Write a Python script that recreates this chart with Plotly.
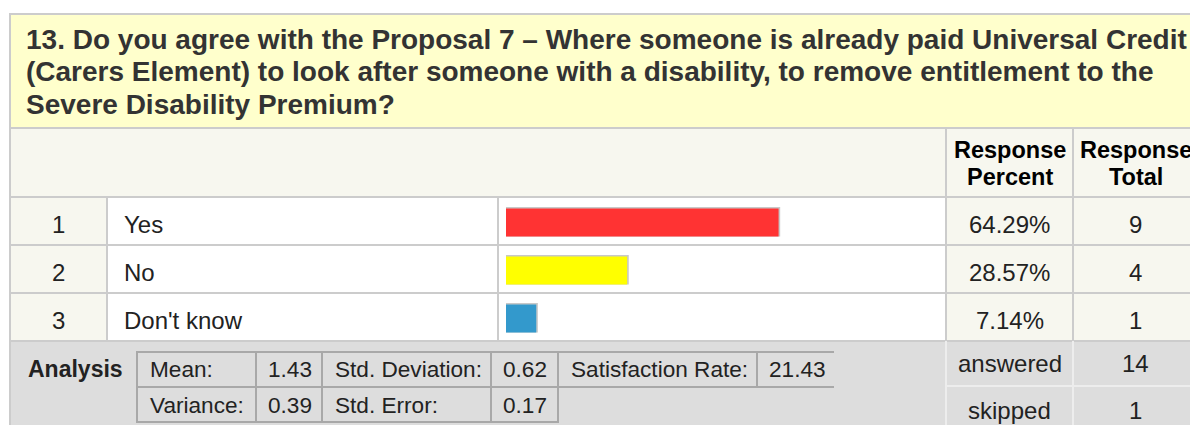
import plotly.graph_objects as go

# ---------------- data ----------------
question_lines = [
    "13. Do you agree with the Proposal 7 – Where someone is already paid Universal Credit",
    "(Carers Element) to look after someone with a disability, to remove entitlement to the",
    "Severe Disability Premium?",
]
answer_numbers = ["1", "2", "3"]
answers = ["Yes", "No", "Don't know"]
response_percent = [64.29, 28.57, 7.14]
response_total = [9, 4, 1]
bar_colors = ["#FF3333", "#FFFF00", "#3399CC"]
header_percent = ["Response", "Percent"]
header_total = ["Response", "Total"]
analysis_row1_labels = ["Mean:", "Std. Deviation:", "Satisfaction Rate:"]
analysis_row1_values = ["1.43", "0.62", "21.43"]
analysis_row2_labels = ["Variance:", "Std. Error:"]
analysis_row2_values = ["0.39", "0.17"]
summary_labels = ["answered", "skipped"]
summary_values = [14, 1]

# ---------------- geometry (screen pixels) ----------------
OX, OY = 8, 8                # page body margin
W, H = 1190, 417


def px(x):
    return (x - OX) / W


def py(y):
    return 1 - (y - OY) / H


FONT = "Liberation Sans, Arial, Helvetica, sans-serif"
GRID = "#CCCCCC"
CREAM = "#F7F7EF"
YELLOW_BG = "#FFFFCC"
GRAY_BG = "#DDDDDD"
INNER = "#A8A8A8"

shapes = []


def rect(x0, y0, x1, y1, fill):
    shapes.append(dict(type="rect", xref="paper", yref="paper",
                       x0=px(x0), x1=px(x1), y0=py(y1), y1=py(y0),
                       fillcolor=fill, line=dict(width=0), layer="below"))


def hline(x0, x1, y, color=GRID, w=2):
    shapes.append(dict(type="line", xref="paper", yref="paper",
                       x0=px(x0), x1=px(x1), y0=py(y), y1=py(y),
                       line=dict(color=color, width=w), layer="below"))


def vline(x, y0, y1, color=GRID, w=2):
    shapes.append(dict(type="line", xref="paper", yref="paper",
                       x0=px(x), x1=px(x), y0=py(y0), y1=py(y1),
                       line=dict(color=color, width=w), layer="below"))


annotations = []


def text(x, y, s, anchor="left", size=24, color="#222222", bold=False):
    annotations.append(dict(xref="paper", yref="paper", x=px(x), y=py(y),
                            text=("<b>%s</b>" % s) if bold else s,
                            showarrow=False, xanchor=anchor, yanchor="middle",
                            font=dict(family=FONT, size=size, color=color)))


LEFT = 10
RIGHT = 1210
C_NUM, C_TXT, C_BAR, C_PCT, C_TOT = 10, 107, 498, 946, 1073
Y_TOP, Y_TITLE, Y_HEAD = 14, 128, 197
ROW_H = 48
Y_ROWS = [Y_HEAD + i * ROW_H for i in range(len(answers) + 1)]
Y_ANA = Y_ROWS[-1]
Y_BOT = 440

# backgrounds
rect(LEFT, Y_TOP, RIGHT, Y_TITLE, YELLOW_BG)
rect(LEFT, Y_TITLE, RIGHT, Y_HEAD, CREAM)
rect(C_NUM, Y_HEAD, C_TXT, Y_ANA, CREAM)
rect(C_TXT, Y_HEAD, C_PCT, Y_ANA, "#FFFFFF")
rect(C_PCT, Y_HEAD, RIGHT, Y_ANA, CREAM)
rect(LEFT, Y_ANA, RIGHT, Y_BOT, GRAY_BG)

# grid lines
hline(LEFT - 1, RIGHT, Y_TOP)
vline(LEFT, Y_TOP - 1, Y_BOT)
hline(LEFT, RIGHT, Y_TITLE)
hline(LEFT, RIGHT, Y_HEAD)
for yy in Y_ROWS[1:]:
    hline(LEFT, RIGHT, yy)
vline(C_TXT, Y_HEAD, Y_ANA)
vline(C_BAR, Y_HEAD, Y_ANA)
vline(C_PCT, Y_TITLE, Y_ANA)
vline(C_TOT, Y_TITLE, Y_ANA)
# summary cells in analysis area
vline(C_PCT, Y_ANA, Y_BOT, color="#EDEDED")
vline(C_TOT, Y_ANA, Y_BOT, color="#EDEDED")
hline(C_PCT, RIGHT, 386, color="#EDEDED")

# title
title_y = [40, 72, 104]
for s, yy in zip(question_lines, title_y):
    text(24, yy, s, size=28, color="#333333", bold=True)

# header
HS = 23.5
text((C_PCT + C_TOT) / 2, 150, header_percent[0], "center", HS, "#000000", True)
text((C_PCT + C_TOT) / 2, 177, header_percent[1], "center", HS, "#000000", True)
text((C_TOT + 1198) / 2, 150, header_total[0], "center", HS, "#000000", True)
text((C_TOT + 1198) / 2, 177, header_total[1], "center", HS, "#000000", True)

# rows
for i in range(len(answers)):
    yc = Y_ROWS[i] + ROW_H / 2 + 3
    text((C_NUM + C_TXT) / 2, yc, answer_numbers[i], "center")
    text(C_TXT + 15, yc, answers[i])
    text((C_PCT + C_TOT) / 2, yc, "%.2f%%" % response_percent[i], "center")
    text((C_TOT + 1198) / 2, yc, str(response_total[i]), "center")

# analysis block
AS = 22.6
text(125, 369, "Analysis", "right", size=23, bold=True)
ix = [137, 256, 322, 491, 558, 757, 834]
iy = [352, 387, 422]
hline(ix[0] - 1, ix[6], iy[0], INNER)
hline(ix[0] - 1, ix[6], iy[1], INNER)
hline(ix[0] - 1, ix[4] + 1, iy[2], INNER)
for x in ix[:5]:
    vline(x, iy[0] - 1, iy[2] + 1, INNER)
vline(ix[5], iy[0] - 1, iy[1] + 1, INNER)
for k in range(len(analysis_row1_labels)):
    text(ix[2 * k] + 11, 369, analysis_row1_labels[k], size=AS)
    text(ix[2 * k + 1] + 10, 369, analysis_row1_values[k], size=AS)
for k in range(len(analysis_row2_labels)):
    text(ix[2 * k] + 11, 405, analysis_row2_labels[k], size=AS)
    text(ix[2 * k + 1] + 10, 405, analysis_row2_values[k], size=AS)

# summary
for k in range(len(summary_labels)):
    yc = 363 + k * 47
    text((C_PCT + C_TOT) / 2, yc, summary_labels[k], "center")
    text((C_TOT + 1198) / 2, yc, str(summary_values[k]), "center")

# ---------------- bars ----------------
BAR_X0 = 506
BAR_FULL = 424          # px for 100 %
bw = 28 / ROW_H
shadow_px = 1.6
fig = go.Figure()
fig.add_trace(go.Bar(
    y=answers, x=[v + shadow_px * 100 / BAR_FULL for v in response_percent],
    orientation="h", marker=dict(color="#C8C8C8", line=dict(width=0)),
    width=bw + shadow_px / ROW_H, offset=-bw / 2 - shadow_px / ROW_H,
    hoverinfo="skip", showlegend=False))
fig.add_trace(go.Bar(
    y=answers, x=response_percent, orientation="h",
    marker=dict(color=bar_colors, line=dict(width=0)),
    width=bw, offset=-bw / 2, showlegend=False,
    hovertemplate="%{y}: %{x:.2f}%<extra></extra>"))

fig.update_layout(
    width=W, height=H,
    margin=dict(l=0, r=0, t=0, b=0),
    paper_bgcolor="#FFFFFF", plot_bgcolor="rgba(0,0,0,0)",
    barmode="overlay",
    shapes=shapes, annotations=annotations,
    xaxis=dict(domain=[px(BAR_X0), px(BAR_X0 + BAR_FULL)], range=[0, 100],
               visible=False, fixedrange=True),
    yaxis=dict(domain=[py(Y_ANA + 1.5), py(Y_HEAD + 1.5)], type="category",
               categoryorder="array", categoryarray=answers,
               range=[len(answers) - 0.5, -0.5], visible=False, fixedrange=True),
    showlegend=False,
)

fig.write_html("out.html")
